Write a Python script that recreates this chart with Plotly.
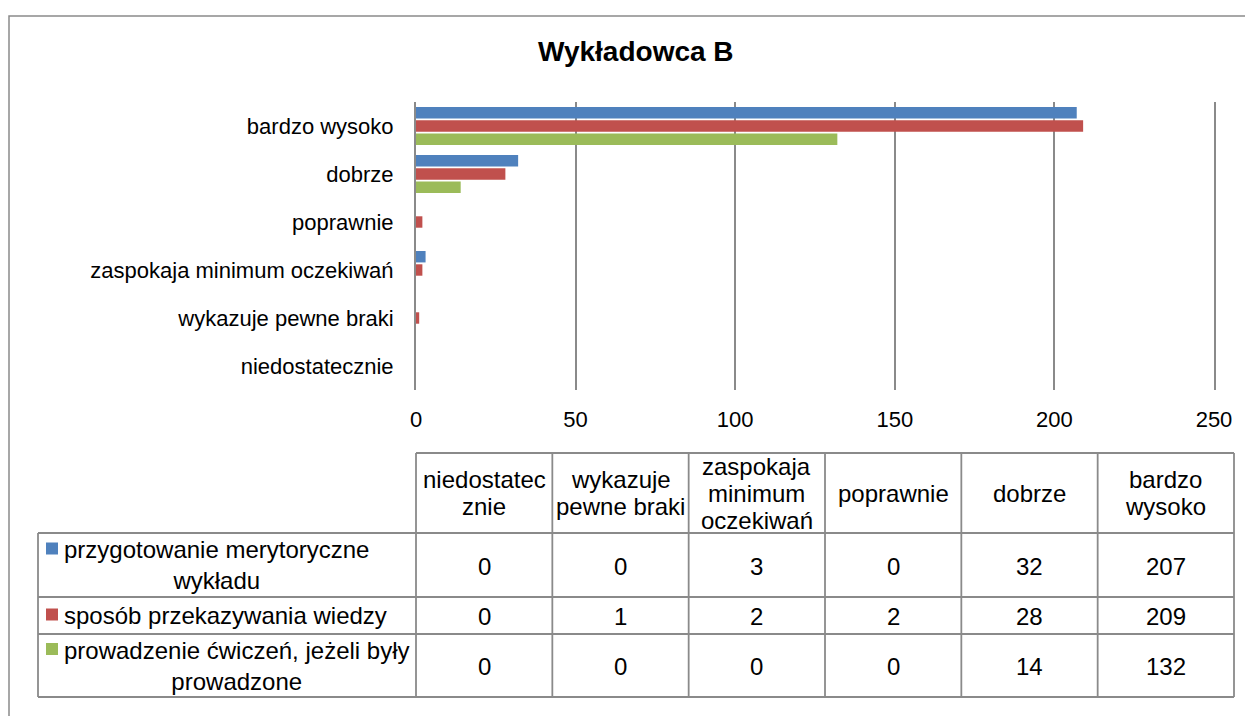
import plotly.graph_objects as go

# ---------------- data ----------------
categories = ["niedostatecznie", "wykazuje pewne braki", "zaspokaja minimum oczekiwań",
              "poprawnie", "dobrze", "bardzo wysoko"]
header_labels = ["niedostatec<br>znie", "wykazuje<br>pewne braki", "zaspokaja<br>minimum<br>oczekiwań",
                 "poprawnie", "dobrze", "bardzo<br>wysoko"]
series_names = ["przygotowanie merytoryczne<br>wykładu",
                "sposób przekazywania wiedzy",
                "prowadzenie ćwiczeń, jeżeli były<br>prowadzone"]
przygotowanie = [0, 0, 3, 0, 32, 207]
sposob = [0, 1, 2, 2, 28, 209]
prowadzenie = [0, 0, 0, 0, 14, 132]
series_values = [przygotowanie, sposob, prowadzenie]
colors = ["#4F81BD", "#C0504D", "#9BBB59"]
title_text = "Wykładowca B"

# ---------------- layout geometry (pixels, page coords minus 8px body margin) ----------------
OFF = 8
W, H = 1253, 716
PL, PR, PT, PB = 416 - OFF, 1214 - OFF, 102 - OFF, 390 - OFF
FONT = "Liberation Sans, Arial, sans-serif"
GRID = "#8a8a8a"


def xp(px):
    return (px - OFF - PL) / (PR - PL)


def yp(py):
    return (PB - (py - OFF)) / (PB - PT)


fig = go.Figure()
for name, vals, col in zip(series_names, series_values, colors):
    fig.add_trace(go.Bar(
        y=categories, x=vals, orientation="h", name=name.replace("<br>", " "),
        marker=dict(color=col, line=dict(width=0)),
    ))

shapes = []
annotations = []

# outer chart border
shapes.append(dict(type="rect", xref="paper", yref="paper",
                   x0=xp(9), x1=xp(1300), y0=yp(16), y1=yp(760),
                   line=dict(color=GRID, width=1.5), layer="below"))

# table geometry (page coords)
tab_left, tab_col0, tab_right = 38, 416, 1234
ncol = len(categories)
colw = (tab_right - tab_col0) / ncol
col_edges = [tab_col0 + i * colw for i in range(ncol + 1)]
row_edges = [453, 533, 597, 634, 697]
LW = 1.8


def hline(y, x0, x1):
    shapes.append(dict(type="line", xref="paper", yref="paper", x0=xp(x0), x1=xp(x1),
                       y0=yp(y), y1=yp(y), line=dict(color=GRID, width=LW)))


def vline(x, y0, y1):
    shapes.append(dict(type="line", xref="paper", yref="paper", x0=xp(x), x1=xp(x),
                       y0=yp(y0), y1=yp(y1), line=dict(color=GRID, width=LW)))


hline(row_edges[0], tab_col0, tab_right)
for y in row_edges[1:]:
    hline(y, tab_left, tab_right)
vline(tab_left, row_edges[1], row_edges[-1])
for x in col_edges:
    vline(x, row_edges[0], row_edges[-1])

TFS = 24
LSP = 27


def text_lines(txt, cx, cy, xanchor="center"):
    lines = txt.split("<br>")
    n = len(lines)
    for i, ln in enumerate(lines):
        y = cy + (i - (n - 1) / 2) * LSP
        annotations.append(dict(text=ln, xref="paper", yref="paper", x=xp(cx), y=yp(y),
                                xanchor=xanchor, yanchor="middle", showarrow=False,
                                font=dict(family=FONT, size=TFS, color="#000000")))


# header row
hc = (row_edges[0] + row_edges[1]) / 2
for i, lab in enumerate(header_labels):
    cx = (col_edges[i] + col_edges[i + 1]) / 2
    text_lines(lab, cx, hc)

# data rows
for r, (name, vals, col) in enumerate(zip(series_names, series_values, colors)):
    cy = (row_edges[r + 1] + row_edges[r + 2]) / 2
    lines = name.split("<br>")
    n = len(lines)
    first_y = cy - (n - 1) / 2 * 31
    # legend key square
    shapes.append(dict(type="rect", xref="paper", yref="paper",
                       x0=xp(46), x1=xp(58), y0=yp(first_y - 7), y1=yp(first_y + 5),
                       fillcolor=col, line=dict(width=0)))
    # multi-line label, centred on its own width, starting at x=64
    annotations.append(dict(text=name, xref="paper", yref="paper", x=xp(62), y=yp(cy),
                            xanchor="left", yanchor="middle", align="center", showarrow=False,
                            font=dict(family=FONT, size=TFS, color="#000000")))
    for i, v in enumerate(vals):
        cx = (col_edges[i] + col_edges[i + 1]) / 2
        text_lines(str(v), cx, cy + 1)

# title
annotations.append(dict(text="<b>" + title_text + "</b>", xref="paper", yref="paper",
                        x=xp(636), y=yp(52), xanchor="center", yanchor="middle",
                        showarrow=False, font=dict(family=FONT, size=28, color="#000000")))

fig.update_layout(
    width=W, height=H,
    margin=dict(l=PL, r=W - PR, t=PT, b=H - PB, pad=0),
    paper_bgcolor="white", plot_bgcolor="white",
    barmode="group", bargap=0.17, bargroupgap=0.14,
    showlegend=False,
    font=dict(family=FONT, size=22, color="#000000"),
    shapes=shapes, annotations=annotations,
    xaxis=dict(range=[0, 250], dtick=50, tick0=0, showgrid=True, gridcolor=GRID, gridwidth=2,
               zeroline=False, showline=False, ticks="", ticklabelstandoff=14,
               tickfont=dict(family=FONT, size=22, color="#000000"), fixedrange=True),
    yaxis=dict(categoryorder="array", categoryarray=categories[::-1], autorange="reversed",
               showgrid=False, zeroline=False, showline=True, mirror=True,
               linecolor=GRID, linewidth=2, ticks="",
               ticklabelstandoff=16,
               tickfont=dict(family=FONT, size=22, color="#000000"), fixedrange=True),
)

fig.write_html("out.html")
